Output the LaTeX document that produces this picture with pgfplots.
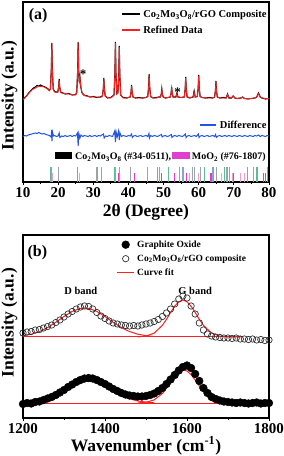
\documentclass[border=0pt]{standalone}
\usepackage{fontspec}
\setmainfont{Liberation Serif}
\usepackage{pgfplots}
\usepackage{pgfplotstable}
\pgfplotsset{compat=1.18}
\definecolor{fitred}{HTML}{FF1F1F}
\definecolor{diffblue}{HTML}{2255E0}
\definecolor{stkgreen}{HTML}{5DBB95}
\definecolor{stkgray}{HTML}{9AA3B0}
\definecolor{stkblue}{HTML}{7FA8D8}
\definecolor{stkpink}{HTML}{F29CC8}
\definecolor{stkmag}{HTML}{E23CC8}
\definecolor{boxmag}{HTML}{E040D0}

\pgfplotstableread{
x obs calc
10 82 82.5
10.5 84.5 84
11 86 86
11.5 88.5 88
12 90.5 90
12.5 92.5 92
13 94 93
13.5 95 94
14 96.5 95
14.5 96 95.5
15 97 95.5
15.5 96 95.5
16 95.5 95
16.5 94.5 94
17 93.5 93
17.5 91.5 91.5
17.8 93 93
18.05 112 111
18.2 139 138
18.35 112 111
18.6 93 92.5
19 90.5 90
19.5 90 89.5
19.9 90 90
20.15 95 95
20.3 103 102
20.45 95 95
20.7 90 89.5
21 89.5 89
22 88 88.5
23 88.5 88
24 87 87.5
25 87.5 87
25.3 90 90
25.55 111 111
25.7 140 139
25.85 111 110
26.0 100 100
26.2 105 104
26.45 95 95
26.8 89 89
27.5 86.5 86.5
28 86.5 86
29 85 85.5
30 85.5 85
31 84.5 85
32 85 84.5
32.6 86 86
32.85 93 93
33.0 104 103
33.15 93 93
33.4 86 86
34 84 84.5
35 84.5 84
35.9 87 87
36.15 109 109
36.3 140 139
36.45 109 109
36.7 88 88
37.0 89 89
37.25 107 107
37.4 136 135
37.55 107 107
37.8 87 87
38.5 84.5 84
39.5 84 84
40.5 85 85
40.75 90 90
40.9 97 96
41.05 90 90
41.3 85 85
42 84 84
43 84.5 84
44 84 84
45 84.5 84.5
45.5 85.5 85.5
45.75 95 95
45.9 108 107
46.05 95 95
46.3 85.5 85.5
47 84 84
48 84.5 84
48.7 85 85
49.1 85 85
49.35 88 88
49.5 93 92
49.65 88 88
49.9 85 85
50.5 84 84
51.3 84.5 84.5
51.9 85 85
52.15 89 89
52.3 95 94
52.45 89 89
52.7 85 85
53.5 85 85
53.8 89 88
54.1 85 85
55 84.5 84.5
55.9 85 85
56.15 93 93
56.3 105 104
56.45 93 93
56.7 85 85
57.5 84 84.5
58.4 85 85
58.7 91 90
59.0 85 85
59.6 85.5 85.5
59.85 94 94
60.0 107 106
60.15 94 94
60.4 85.5 85.5
61 84.5 84.5
62 84 84
63 84.5 84
64 84 84
64.5 85 85
64.75 91 91
64.9 101 100
65.05 91 91
65.3 85 85
66 84 84
67 84.5 84
67.8 84 84
68.2 88 87.5
68.6 84 84
69.3 84 84
69.8 86 86
70.3 84 84
71 83.5 83.5
72 84 84
72.5 85 85
73 83.5 83.5
74 83 83.5
75 83.5 83.5
76 84 84
76.5 85 85
77.0 89 88.5
77.5 85 85
78 84 84
79 83 83.5
80 83.5 83.5
}\xrd

\pgfplotstableread{
x go comp
1200 14 85
1210 15 86
1220 14.5 86.5
1230 16 88
1240 16.5 88.5
1250 18 90
1260 19.5 91.5
1270 21 93
1280 23 95.5
1290 25.5 98
1300 28 101
1310 31 104
1320 33.5 106.5
1330 36 109
1340 38 111
1350 39.5 112
1360 40 111.5
1370 39.5 109
1380 38 105.5
1390 36 102
1400 34 99.5
1410 31.5 97
1420 29 95
1430 27 94
1440 25 93
1450 23.5 92.5
1460 22.5 92
1470 22 92.5
1480 21.5 92
1490 21.5 93
1500 22 94
1510 23 95
1520 24.5 96.5
1530 27 98.5
1540 30 101.5
1550 34 105
1560 38.5 109
1570 43 114
1580 47.5 119
1590 51 122
1600 52.5 120
1610 50 112
1620 44 104
1630 37 95
1640 30 88
1650 25 84
1660 21 82
1670 19 81
1680 17.5 80.5
1690 16.5 80
1700 16 80
1710 15.5 79.5
1720 15 80
1730 15.5 79
1740 15 79
1750 14.5 78.5
1760 15 79
1770 15.5 78
1780 14.5 78.5
1790 15 77.5
1800 15 78
}\raman

\begin{document}
\begin{tikzpicture}[x=1pt,y=1pt]
\useasboundingbox (0,0) rectangle (284,456);
\pgfplotsset{every axis/.append style={
  scale only axis, width=246pt,
  axis line style={line width=1.2pt},
  every tick/.style={black, line width=0.9pt},
  tick align=outside, major tick length=3pt, minor tick length=2pt,
  xtick pos=lower, ytick=\empty,
  /pgf/number format/assume math mode=true,
  /pgf/number format/1000 sep={},
  xticklabel style={font=\bfseries\fontsize{15}{15}\selectfont, inner sep=1pt, yshift=-1.5pt},
  label style={font=\bfseries\fontsize{17.5}{18}\selectfont, inner sep=0pt},
  clip=true,
}}
% ---------------- panel (a)
\begin{axis}[at={(23pt,274pt)}, anchor=south west, height=180pt,
  xmin=10, xmax=80, ymin=0, ymax=180,
  xtick={10,20,...,80}, minor x tick num=1,
  xlabel={2θ (Degree)},
  xlabel style={at={(axis description cs:0.5,0)}, anchor=base, yshift=-35pt},
  ylabel={Intensity (a.u.)},
  ylabel style={at={(axis description cs:-0.055,0.48)}, anchor=center},
]
% reference sticks
\addplot[ycomb, stkgreen, line width=0.9pt, mark=none] coordinates {(17.8,15)(25.5,15)(36.0,15)(48.3,15)(51.5,15)(61.5,15)(64.3,15)(67.2,15)(74.0,15)(76.3,15)(76.8,15)(79.6,15)};
\addplot[ycomb, stkgray, line width=0.9pt, mark=none] coordinates {(20.0,15)(31.0,15)(32.4,15)(36.4,15)(37.5,15)(40.6,15)(45.5,15)(54.5,15)(58.3,15)(58.9,15)(60.5,15)(65.0,15)(67.8,15)(68.2,15)(68.8,15)(75.5,15)};
\addplot[ycomb, stkblue, line width=0.9pt, mark=none] coordinates {(18.0,15)(31.3,15)(48.8,15)(55.3,15)(55.7,15)(63.8,15)};
\addplot[ycomb, stkpink, line width=1.1pt, mark=none] coordinates {(18.4,9)(26.2,9)(57.5,9)(60.0,9)(66.5,9)(69.5,9)(72.0,9)(73.0,9)};
\addplot[ycomb, stkmag, line width=1.1pt, mark=none] coordinates {(37.1,9)(41.7,9)(49.5,9)(53.0,9)(56.5,9)(63.5,9)(70.0,9)(78.5,9)(79.0,9)};
% difference
\addplot[diffblue, line width=1pt, mark=none] coordinates {(10,45.5)(10.5,46.5)(11,46)(11.5,47)(12,47.5)(12.5,48)(13,48.5)(13.5,49)(14,48.5)(14.5,49.5)(15,48.5)(15.5,48)(16,48.5)(16.5,47.5)(17,47)(17.5,46.5)(18,45)(18.15,52)(18.25,41)(18.4,50)(18.7,46)(19,46.5)(19.5,45.5)(20,46)(20.3,49)(20.5,44.5)(21,46)(21.5,45.5)(22,46.5)(22.5,45.5)(23,46)(23.5,46.5)(24,45.5)(24.5,46.5)(25,46)(25.5,49)(25.7,36)(25.9,48.5)(26.2,44)(26.5,47)(27,45.5)(27.5,46.5)(28,46)(28.5,45.5)(29,46.5)(29.5,45.5)(30,46)(30.5,46.5)(31,45.5)(31.5,46.5)(32,46)(32.9,48)(33.1,44)(33.5,46)(34,45.5)(34.5,46.5)(35,46)(35.5,45.5)(36.1,51)(36.3,40)(36.5,50)(36.8,45)(37.2,51)(37.4,42)(37.6,49)(38,45.5)(38.5,46.5)(39,46)(39.5,45.5)(40,46.5)(40.5,46)(40.9,48)(41.1,44.5)(41.5,46)(42,46.5)(42.5,45.5)(43,46)(43.5,46.5)(44,45.5)(44.5,46)(45,46.5)(45.5,45.5)(45.85,48.5)(46,44)(46.3,46.5)(46.8,45.5)(47.3,46.5)(47.8,46)(48.3,45.5)(48.8,46.5)(49.4,47.5)(49.6,45)(50,46)(50.5,46.5)(51,45.5)(51.5,46)(52.2,47.5)(52.4,44.5)(52.8,46)(53.3,46.5)(53.8,45.5)(54.3,46.5)(54.8,46)(55.3,45.5)(55.8,46.5)(56.2,48)(56.4,44.5)(56.8,46)(57.3,46.5)(57.8,45.5)(58.3,46)(58.8,46.5)(59.3,45.5)(59.9,48)(60.1,44.5)(60.5,46)(61,46.5)(61.5,45.5)(62,46)(62.5,46.5)(63,45.5)(63.5,46)(64,46.5)(64.5,45.5)(64.8,47.5)(65,44.5)(65.5,46)(66,46.5)(66.5,45.5)(67,46)(67.5,46.5)(68,45.5)(68.5,46.5)(69,46)(69.5,45.5)(70,46.5)(70.5,46)(71,45.5)(71.5,46.5)(72,46)(72.5,45.5)(73,46.5)(73.5,46)(74,45.5)(74.5,46.5)(75,46)(75.5,45.5)(76,46.5)(76.5,46)(77,47)(77.5,45.5)(78,46.5)(78.5,46)(79,45.5)(79.5,46.5)(80,46)};
% observed and refined
\addplot[black, line width=1.1pt, mark=none] table[x=x, y=obs] {\xrd};
\addplot[fitred, line width=0.9pt, mark=none] table[x=x, y=calc] {\xrd};
% annotations
\node[font=\bfseries\fontsize{16}{16}\selectfont, anchor=base] at (axis cs:14.3,162) {(a)};
\node[font=\bfseries\fontsize{13}{13}\selectfont] at (axis cs:27.1,108) {*};
\node[font=\bfseries\fontsize{13}{13}\selectfont] at (axis cs:54.0,90) {*};
% legend (a)
\draw[black, line width=1.2pt] (axis cs:38.2,168) -- (axis cs:43.3,168);
\node[anchor=base west, inner sep=0pt, font=\bfseries\fontsize{10.5}{11}\selectfont] at (axis cs:44.2,164.5) {Co\textsubscript{2}Mo\textsubscript{3}O\textsubscript{8}/rGO Composite};
\draw[fitred, line width=1.2pt] (axis cs:38.2,152) -- (axis cs:43.3,152);
\node[anchor=base west, inner sep=0pt, font=\bfseries\fontsize{10.5}{11}\selectfont] at (axis cs:44.2,148.5) {Refined Data};
\draw[diffblue, line width=1.2pt] (axis cs:60.4,57) -- (axis cs:64.9,57);
\node[anchor=base west, inner sep=0pt, font=\bfseries\fontsize{10.5}{11}\selectfont] at (axis cs:66.0,53.5) {Difference};
\fill[black] (axis cs:19.1,23) rectangle (axis cs:24,29.5);
\node[anchor=base west, inner sep=0pt, font=\bfseries\fontsize{10}{11}\selectfont] at (axis cs:24.8,22) {Co\textsubscript{2}Mo\textsubscript{3}O\textsubscript{8} (\#34-0511),};
\fill[boxmag] (axis cs:52.5,23) rectangle (axis cs:57.4,29.5);
\node[anchor=base west, inner sep=0pt, font=\bfseries\fontsize{10}{11}\selectfont] at (axis cs:58.0,22) {MoO\textsubscript{2} (\#76-1807)};
\end{axis}
% ---------------- panel (b)
\begin{axis}[at={(23pt,38pt)}, anchor=south west, height=183pt,
  xmin=1200, xmax=1800, ymin=0, ymax=183,
  xtick={1200,1400,1600,1800}, minor x tick num=1,
  xlabel={Wavenumber (cm\textsuperscript{-1})},
  xlabel style={at={(axis description cs:0.5,0)}, anchor=base, yshift=-33pt},
  ylabel={Intensity (a.u.)},
  ylabel style={at={(axis description cs:-0.055,0.52)}, anchor=center},
  legend cell align=left,
  legend style={at={(axis cs:1428,180.5)}, anchor=north west, draw=none, fill=none, inner sep=0pt,
    font=\bfseries\fontsize{9.5}{11}\selectfont,
    nodes={inner sep=2.5pt, text height=7pt, text depth=2pt}},
]
\addplot[only marks, mark=*, mark size=3.9pt, black, mark options={fill=black}] table[x=x, y=go] {\raman};
\addlegendentry{Graphite Oxide}
\addplot[only marks, mark=o, mark size=3.2pt, black!80, mark options={line width=0.7pt}] table[x=x, y=comp] {\raman};
\addlegendentry{Co\textsubscript{2}Mo\textsubscript{3}O\textsubscript{8}/rGO composite}
\addplot[fitred, line width=1pt, mark=none] coordinates {(1200,82.3)(1220,83.8)(1240,86.4)(1260,90.4)(1280,95.7)(1300,101.5)(1320,106.6)(1340,109.6)(1350,110)(1360,109.6)(1380,106.6)(1400,101.5)(1420,95.7)(1440,90.4)(1460,86.4)(1480,83.8)(1500,82.3)(1520,81.5)};
\addlegendentry{Curve fit}
\addplot[fitred, line width=1pt, mark=none, forget plot] coordinates {(1480,81.1)(1500,81.9)(1520,84.9)(1540,92.7)(1550,98.7)(1560,105.5)(1570,111.8)(1580,116.3)(1590,118)(1600,116.3)(1610,111.8)(1620,105.5)(1630,98.7)(1640,92.7)(1660,84.9)(1680,81.9)(1700,81.1)(1735,81)};
\addplot[fitred, line width=1pt, mark=none, forget plot] coordinates {(1200,81)(1735,81)};
\addplot[fitred, line width=1pt, mark=none, forget plot] coordinates {(1200,15.3)(1220,15.9)(1240,17.0)(1260,19.2)(1280,22.6)(1300,27.1)(1320,31.9)(1340,35.6)(1360,37)(1380,35.6)(1400,31.9)(1420,27.1)(1440,22.6)(1460,19.2)(1480,17.0)(1500,15.9)(1520,15.3)};
\addplot[fitred, line width=1pt, mark=none, forget plot] coordinates {(1480,15.1)(1500,15.7)(1520,18.1)(1540,24.5)(1550,29.7)(1560,35.6)(1570,41.4)(1580,45.9)(1592,48)(1600,47.0)(1610,43.4)(1620,38.0)(1630,32.0)(1640,26.5)(1660,19.0)(1680,15.9)(1700,15.2)(1735,15)};
\addplot[fitred, line width=1pt, mark=none, forget plot] coordinates {(1200,15)(1735,15)};
\node[font=\bfseries\fontsize{16}{16}\selectfont, anchor=base] at (axis cs:1235,161) {(b)};
\node[font=\bfseries\fontsize{10.5}{11}\selectfont, anchor=base] at (axis cs:1341,124) {D band};
\node[font=\bfseries\fontsize{10.5}{11}\selectfont, anchor=base] at (axis cs:1620,124) {G band};
\end{axis}
\end{tikzpicture}
\end{document}
